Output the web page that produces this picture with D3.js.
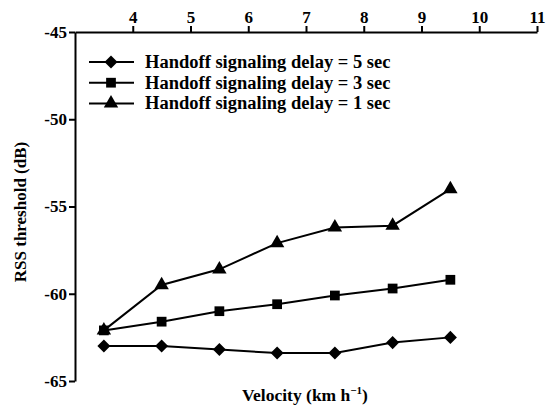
<!DOCTYPE html>
<meta charset="utf-8">
<head>
  <script type="text/javascript" src="https://cdn.jsdelivr.net/npm/d3@7"></script>
</head>
<style type="text/css">
  body {
    margin: 0;
    background: #fff;
    font-family: "Liberation Serif", "Times New Roman", serif;
  }
  .axis path, .axis line {
    stroke: #000;
    stroke-width: 2px;
  }
  .axis text {
    font-family: "Liberation Serif", "Times New Roman", serif;
    font-size: 17px;
    font-weight: bold;
    fill: #000;
  }
  .series {
    fill: none;
    stroke: #000;
    stroke-width: 2px;
  }
</style>
<body>
</body>
<script type="text/javascript">

var velocity = [3.5, 4.5, 5.5, 6.5, 7.5, 8.5, 9.5];
var delay5 = [-63.0, -63.0, -63.2, -63.4, -63.4, -62.8, -62.5];
var delay3 = [-62.1, -61.6, -61.0, -60.6, -60.1, -59.7, -59.2];
var delay1 = [-62.1, -59.5, -58.6, -57.1, -56.2, -56.1, -54.0];
var xTicks = [4, 5, 6, 7, 8, 9, 10, 11];
var yTicks = [-45, -50, -55, -60, -65];

var seriesNames = ["Handoff signaling delay = 5 sec",
                   "Handoff signaling delay = 3 sec",
                   "Handoff signaling delay = 1 sec"];
var seriesValues = [delay5, delay3, delay1];
var symbols = [d3.symbolSquare, d3.symbolSquare, d3.symbolTriangle];
var symSizes = [85, 95, 90];
var symRotate = [45, 0, 0];

var width = 547,
    height = 410;

var svg = d3.select("body").append("svg")
    .attr("width", width)
    .attr("height", height);

var x = d3.scaleLinear().domain([3, 11]).range([75, 537]);
var y = d3.scaleLinear().domain([-45, -65]).range([32, 381]);

svg.append("g")
    .attr("class", "axis")
    .attr("transform", "translate(0," + y(-45) + ")")
    .call(d3.axisTop(x).tickValues(xTicks).tickSize(6).tickSizeOuter(0).tickPadding(3));

svg.append("g")
    .attr("class", "axis")
    .attr("transform", "translate(" + x(3) + ",0)")
    .call(d3.axisLeft(y).tickValues(yTicks).tickSize(6).tickSizeOuter(0).tickPadding(2)
      .tickFormat(function(d) { return "-" + Math.abs(d); }));

var line = d3.line()
    .x(function(d, i) { return x(velocity[i]); })
    .y(function(d) { return y(d); });

seriesValues.forEach(function(vals, k) {
  svg.append("path")
      .attr("class", "series")
      .attr("d", line(vals));

  svg.selectAll(".pt" + k)
      .data(vals)
    .enter().append("path")
      .attr("class", "pt" + k)
      .attr("transform", function(d, i) {
        return "translate(" + x(velocity[i]) + "," + y(d) + ") rotate(" + symRotate[k] + ")";
      })
      .attr("d", d3.symbol().type(symbols[k]).size(symSizes[k]))
      .attr("fill", "#000");
});

// legend
var legend = svg.selectAll(".legend")
    .data(seriesNames)
  .enter().append("g")
    .attr("class", "legend")
    .attr("transform", function(d, i) { return "translate(89," + (62 + 20.7 * i) + ")"; });

legend.append("line")
    .attr("x1", 0).attr("x2", 45)
    .attr("stroke", "#000")
    .attr("stroke-width", 2);

legend.append("path")
    .attr("transform", function(d, i) { return "translate(22,0) rotate(" + symRotate[i] + ")"; })
    .attr("d", function(d, i) { return d3.symbol().type(symbols[i]).size(symSizes[i])(); })
    .attr("fill", "#000");

legend.append("text")
    .attr("x", 56)
    .attr("y", 6)
    .style("font-size", "18.5px")
    .style("font-weight", "bold")
    .text(function(d) { return d; });

// axis titles
svg.append("text")
    .attr("transform", "translate(26,212) rotate(-90)")
    .attr("text-anchor", "middle")
    .style("font-size", "17px")
    .style("font-weight", "bold")
    .text("RSS threshold (dB)");

var xt = svg.append("text")
    .attr("x", 305)
    .attr("y", 401)
    .attr("text-anchor", "middle")
    .style("font-size", "17.5px")
    .style("font-weight", "bold");
xt.append("tspan").text("Velocity (km h");
xt.append("tspan").attr("dy", -7).style("font-size", "11px").text("\u22121");
xt.append("tspan").attr("dy", 7).text(")");

</script>
</html>
